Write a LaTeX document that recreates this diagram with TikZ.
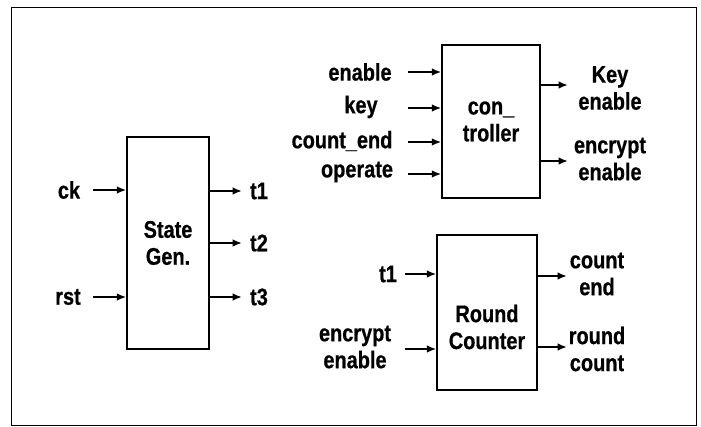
\documentclass[tikz,border=0pt]{standalone}
\usepackage{fontspec}
\setmainfont{Liberation Sans}[FakeStretch=0.83,BoldFeatures={FakeBold=0.6}]
\usetikzlibrary{arrows.meta}
\begin{document}
\begin{tikzpicture}
    [
    x=0.03cm,y=-0.03cm,
    font=\bfseries\fontsize{20.5}{23}\selectfont,
    blk/.style = {draw,line width=1.2pt,align=center,inner sep=0pt},
    sig/.style = {line width=1.8pt,-{Latex[length=8pt,width=6.5pt]}},
    lbl/.style = {align=center,inner sep=1pt}
    ]
\useasboundingbox (0,0) rectangle (701,427);
\draw[line width=1.2pt] (11.5,7.5) rectangle (696.5,425.5);

% state generator
\node[blk,minimum width=2.46cm,minimum height=6.36cm] (sg) at (168,243) {State\\Gen.};

\node[lbl] (ck) at (69,190) {ck};
\coordinate (ckin) at (93,190);
\draw[sig] (ckin) -- (ckin -| sg.west);
\node[lbl] (rst) at (68,297) {rst};
\coordinate (rstin) at (93,297);
\draw[sig] (rstin) -- (rstin -| sg.west);

\coordinate (t1out) at (242,191);
\draw[sig] (t1out -| sg.east) -- (t1out);
\node[lbl] (t1) at (259,191) {t1};
\coordinate (t2out) at (242,243);
\draw[sig] (t2out -| sg.east) -- (t2out);
\node[lbl] (t2) at (259,243) {t2};
\coordinate (t3out) at (242,297);
\draw[sig] (t3out -| sg.east) -- (t3out);
\node[lbl] (t3) at (259,297) {t3};

% controller
\node[blk,minimum width=2.94cm,minimum height=4.59cm] (ctrl) at (491,121.5) {con\_\\troller};

\node[lbl] (enable) at (360,72) {enable};
\coordinate (enin) at (408,72);
\draw[sig] (enin) -- (enin -| ctrl.west);
\node[lbl] (key) at (361,107) {key};
\coordinate (keyin) at (408,108);
\draw[sig] (keyin) -- (keyin -| ctrl.west);
\node[lbl] (cntend) at (342,141) {count\_end};
\coordinate (cein) at (408,142);
\draw[sig] (cein) -- (cein -| ctrl.west);
\node[lbl] (operate) at (357,172) {operate};
\coordinate (opin) at (408,174);
\draw[sig] (opin) -- (opin -| ctrl.west);

\coordinate (keout) at (568,85);
\draw[sig] (keout -| ctrl.east) -- (keout);
\node[lbl] (keyen) at (610,88) {Key\\enable};
\coordinate (eeout) at (568,161);
\draw[sig] (eeout -| ctrl.east) -- (eeout);
\node[lbl] (encen) at (610,159) {encrypt\\enable};

% round counter
\node[blk,minimum width=3.0cm,minimum height=4.65cm] (rc) at (487,312.5) {};
\node[lbl] (rctxt) at (487,327) {Round\\Counter};

\node[lbl] (rct1) at (388,274) {t1};
\coordinate (rct1in) at (405,274);
\draw[sig] (rct1in) -- (rct1in -| rc.west);
\node[lbl] (rcen) at (355,347) {encrypt\\enable};
\coordinate (rcenin) at (405,349);
\draw[sig] (rcenin) -- (rcenin -| rc.west);

\coordinate (ceout) at (567,276);
\draw[sig] (ceout -| rc.east) -- (ceout);
\node[lbl] (cntend2) at (597,274) {count\\end};
\coordinate (rnout) at (567,347);
\draw[sig] (rnout -| rc.east) -- (rnout);
\node[lbl] (rndcnt) at (597,349) {round\\count};

\end{tikzpicture}
\end{document}
